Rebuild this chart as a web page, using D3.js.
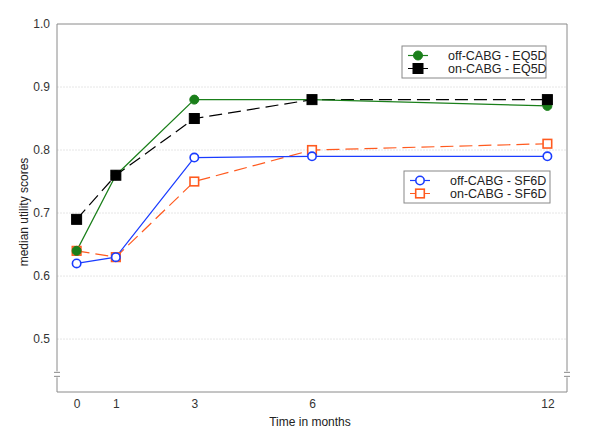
<!DOCTYPE html>
<html><head><meta charset="utf-8">
<script src="https://cdn.jsdelivr.net/npm/d3@7"></script>
<style>body{margin:0;background:#fff}svg{display:block;font-family:"Liberation Sans",Arial,sans-serif}</style>
</head><body><svg id="c" width="600" height="438"></svg>
<script>
const months = [0, 1, 3, 6, 12];
const offEQ5D = [0.64, 0.76, 0.88, 0.88, 0.87];
const onEQ5D = [0.69, 0.76, 0.85, 0.88, 0.88];
const offSF6D = [0.62, 0.63, 0.788, 0.79, 0.79];
const onSF6D = [0.64, 0.63, 0.75, 0.80, 0.81];
const yTicks = [0.5, 0.6, 0.7, 0.8, 0.9, 1.0];
const seriesNames = ["off-CABG - EQ5D", "on-CABG - EQ5D", "off-CABG - SF6D", "on-CABG - SF6D"];

const svg = d3.select("#c");
const L = 57, R = 567, T = 24, B = 392;
const x = d3.scaleLinear().domain([-0.5, 12.5]).range([L, R]);
const y = d3.scaleLinear().domain([0.416, 1.0]).range([B, T]);

// grid
svg.append("g").selectAll("line").data(yTicks.filter(v => v < 1)).join("line")
  .attr("x1", L).attr("x2", R).attr("y1", d => y(d)).attr("y2", d => y(d))
  .attr("stroke", "#e6e6e6").attr("stroke-width", 1).attr("stroke-dasharray", "2,1");

// frame
const frame = "#8a8a8a";
svg.append("path").attr("d", `M${L},${y(0.444)+3}V${B}H${R}V${y(0.444)+3}`).attr("fill","none").attr("stroke",frame);
svg.append("path").attr("d", `M${L},${y(0.444)-3}V${T}H${R}V${y(0.444)-3}`).attr("fill","none").attr("stroke",frame);
[L, R].forEach(xx => {
  [-2, 2].forEach(o => svg.append("line").attr("x1", xx-3).attr("x2", xx+3)
    .attr("y1", y(0.444)+o).attr("y2", y(0.444)+o).attr("stroke", frame));
});

// axes
const yAxis = d3.axisLeft(y).tickValues(yTicks).tickFormat(d3.format(".1f")).tickSize(0).tickPadding(7);
const gy = svg.append("g").attr("transform", `translate(${L},0)`).call(yAxis);
gy.select(".domain").remove();
gy.selectAll("text").attr("font-size", 12).attr("fill", "#333").attr("font-family", "Liberation Sans, Arial, sans-serif");

const xAxis = d3.axisBottom(x).tickValues(months).tickSize(0).tickPadding(7);
const gx = svg.append("g").attr("transform", `translate(0,${B})`).call(xAxis);
gx.select(".domain").remove();
gx.selectAll("text").attr("font-size", 12).attr("fill", "#333").attr("font-family", "Liberation Sans, Arial, sans-serif");

svg.append("text").attr("x", 310).attr("y", 426).attr("text-anchor", "middle")
  .attr("font-size", 12).attr("fill", "#222").text("Time in months");
svg.append("text").attr("transform", `translate(28,212) rotate(-90)`).attr("text-anchor", "middle")
  .attr("font-size", 12).attr("fill", "#222").text("median utility scores");

const series = [
  {name: seriesNames[0], vals: offEQ5D, color: "#1a7f1a", dash: null, shape: "circle", fill: true},
  {name: seriesNames[1], vals: onEQ5D, color: "#000000", dash: "13,6", shape: "square", fill: true},
  {name: seriesNames[2], vals: offSF6D, color: "#1a3cff", dash: null, shape: "circle", fill: false},
  {name: seriesNames[3], vals: onSF6D, color: "#ff5a1f", dash: "13,6", shape: "square", fill: false}
];

const line = d3.line().x(d => x(d[0])).y(d => y(d[1]));
function marker(g, s, cx, cy) {
  if (s.shape === "circle") {
    g.append("circle").attr("cx", cx).attr("cy", cy).attr("r", s.fill ? 4.5 : 4.2)
      .attr("fill", s.fill ? s.color : "#fff").attr("stroke", s.color).attr("stroke-width", s.fill ? 1 : 1.6);
  } else {
    const h = s.fill ? 5 : 4.3;
    g.append("rect").attr("x", cx-h).attr("y", cy-h).attr("width", 2*h).attr("height", 2*h)
      .attr("fill", s.fill ? s.color : "#fff").attr("stroke", s.color).attr("stroke-width", s.fill ? 1 : 1.6);
  }
}
[3, 2, 1, 0].forEach(i => {
  const s = series[i];
  const pts = months.map((m, j) => [m, s.vals[j]]);
  svg.append("path").attr("d", line(pts)).attr("fill", "none").attr("stroke", s.color)
    .attr("stroke-width", 1.2).attr("stroke-dasharray", s.dash);
});
[3, 2, 0, 1].forEach(i => {
  const s = series[i];
  const g = svg.append("g");
  months.forEach((m, j) => marker(g, s, x(m), y(s.vals[j])));
});

// legends
function legend(x0, y0, w, items) {
  const g = svg.append("g");
  g.append("rect").attr("x", x0).attr("y", y0).attr("width", w).attr("height", 32)
    .attr("fill", "#fff").attr("stroke", "#888");
  items.forEach((s, k) => {
    const cy = y0 + 9.5 + k * 13;
    g.append("line").attr("x1", x0+6).attr("x2", x0+26).attr("y1", cy).attr("y2", cy)
      .attr("stroke", s.color).attr("stroke-width", 1.2).attr("stroke-dasharray", s.dash ? "11,3" : null);
    marker(g, s, x0+16, cy);
    g.append("text").attr("x", x0+46).attr("y", cy+4.5).attr("font-size", 12.5).attr("fill", "#222").text(s.name);
  });
}
legend(402, 46, 144, [series[0], series[1]]);
legend(404, 171, 146, [series[2], series[3]]);
</script></body></html>
